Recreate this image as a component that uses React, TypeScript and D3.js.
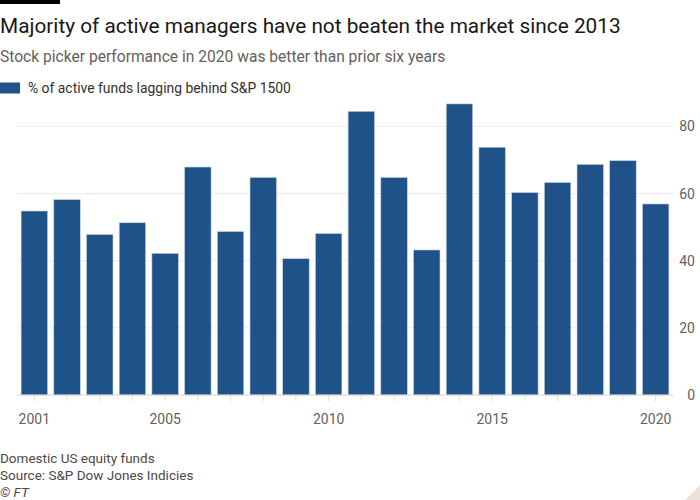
import React from "react";
import * as d3 from "d3";

const years: number[] = [2001,2002,2003,2004,2005,2006,2007,2008,2009,2010,2011,2012,2013,2014,2015,2016,2017,2018,2019,2020];
const lagging: number[] = [54.8,58.2,47.8,51.3,42.2,67.9,48.7,64.8,40.6,48.1,84.5,64.8,43.2,86.7,73.8,60.3,63.3,68.7,69.8,56.9];
const yTicks: number[] = [0,20,40,60,80];
const xTickLabels: number[] = [2001,2005,2010,2015,2020];

const title = "Majority of active managers have not beaten the market since 2013";
const subtitle = "Stock picker performance in 2020 was better than prior six years";
const legendLabel = "% of active funds lagging behind S&P 1500";
const footer = ["Domestic US equity funds", "Source: S&P Dow Jones Indicies"];

const W = 700, H = 500;
const FONT = "Roboto, 'Noto Sans', sans-serif";

export default function App() {
  const x = d3.scaleBand<number>().domain(years).range([18, 672]).paddingInner(0.19).paddingOuter(0.095);
  const y = d3.scaleLinear().domain([0, 80]).range([395, 126.4]);
  const barColor = "#1f5289";
  return (
    <svg width={W} height={H} style={{ position: "absolute", left: 0, top: 0, background: "#fff" }} fontFamily={FONT}>
      <rect x={0} y={0} width={60} height={4} fill="#000" />
      <text x={0} y={32.5} fontSize={20.8} fill="#1a1817">{title}</text>
      <text x={0} y={62} fontSize={15.6} fill="#66605c">{subtitle}</text>
      <rect x={0} y={82.5} width={20} height={11} fill={barColor} />
      <text x={28} y={93} fontSize={13.9} fill="#33302e">{legendLabel}</text>
      {yTicks.filter(t => t > 0).map(t => (
        <line key={"g" + t} x1={17} x2={673} y1={y(t)} y2={y(t)} stroke="#f1ebe6" strokeWidth={1} />
      ))}
      {years.map((yr, i) => (
        <rect key={yr} x={x(yr)!} y={y(lagging[i])} width={x.bandwidth()} height={y(0) - y(lagging[i])}
          fill={barColor} stroke="#c8d3e0" strokeWidth={0.6} />
      ))}
      <line x1={17} x2={673} y1={y(0)} y2={y(0)} stroke="#d6cfc9" strokeWidth={1} />
      {years.map(yr => (
        <line key={"t" + yr} x1={x(yr)! + x.bandwidth() / 2} x2={x(yr)! + x.bandwidth() / 2} y1={y(0)} y2={y(0) + 6} stroke="#e3dcd6" strokeWidth={1} />
      ))}
      {xTickLabels.map(yr => (
        <text key={"l" + yr} x={x(yr)! + x.bandwidth() / 2} y={424} textAnchor="middle" fontSize={14} fill="#66605c">{yr}</text>
      ))}
      {yTicks.map(t => (
        <text key={"y" + t} x={695} y={y(t) + 5} textAnchor="end" fontSize={14} fill="#66605c">{t}</text>
      ))}
      {footer.map((f, i) => (
        <text key={f} x={0} y={463 + i * 17} fontSize={13.5} fill="#4d4845">{f}</text>
      ))}
      <text x={0} y={497} fontSize={13.5} fill="#4d4845" fontStyle="italic">© FT</text>
      <path d="M700,485 L700,500 L685,500 Z" fill="#e9e1da" />
    </svg>
  );
}
